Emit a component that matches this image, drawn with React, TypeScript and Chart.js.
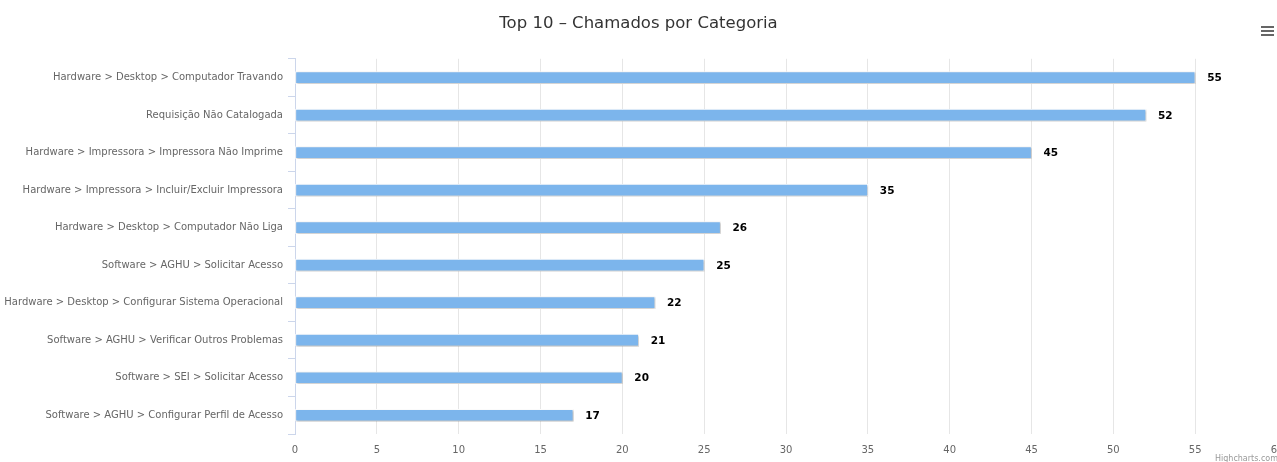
import React, { useEffect, useRef } from "react";
import { Chart, registerables } from "chart.js";

Chart.register(...registerables);

const categories = [
  "Hardware > Desktop > Computador Travando",
  "Requisição Não Catalogada",
  "Hardware > Impressora > Impressora Não Imprime",
  "Hardware > Impressora > Incluir/Excluir Impressora",
  "Hardware > Desktop > Computador Não Liga",
  "Software > AGHU > Solicitar Acesso",
  "Hardware > Desktop > Configurar Sistema Operacional",
  "Software > AGHU > Verificar Outros Problemas",
  "Software > SEI > Solicitar Acesso",
  "Software > AGHU > Configurar Perfil de Acesso",
];
const chamados = [55, 52, 45, 35, 26, 25, 22, 21, 20, 17];
const titleText = "Top 10 – Chamados por Categoria";
const FONT = "'DejaVu Sans', sans-serif";

const shadowPlugin = {
  id: "barShadow",
  beforeDatasetsDraw(chart: any) {
    const ctx = chart.ctx;
    ctx.save();
    ctx.shadowColor = "rgba(0,0,0,0.25)";
    ctx.shadowOffsetX = 1;
    ctx.shadowOffsetY = 1;
    ctx.shadowBlur = 2;
  },
  afterDatasetsDraw(chart: any) {
    chart.ctx.restore();
  },
};

const labelPlugin = {
  id: "valueLabels",
  afterDatasetsDraw(chart: any) {
    const ctx = chart.ctx;
    const meta = chart.getDatasetMeta(0);
    const data = chart.data.datasets[0].data;
    ctx.save();
    ctx.font = "bold 10.5px " + FONT;
    ctx.textAlign = "left";
    ctx.textBaseline = "middle";
    ctx.lineWidth = 2;
    ctx.strokeStyle = "#ffffff";
    ctx.fillStyle = "#000000";
    meta.data.forEach((bar: any, i: number) => {
      const t = String(data[i]);
      ctx.strokeText(t, bar.x + 12, bar.y + 1);
      ctx.fillText(t, bar.x + 12, bar.y + 1);
    });
    ctx.restore();
  },
};

export default function App() {
  const ref = useRef<HTMLCanvasElement | null>(null);
  useEffect(() => {
    if (!ref.current) return;
    const chart = new Chart(ref.current, {
      type: "bar",
      data: {
        labels: categories,
        datasets: [
          {
            label: "Chamados",
            data: chamados,
            backgroundColor: "#7cb5ec",
            borderColor: "#ffffff",
            borderWidth: 1,
            borderSkipped: false,
            barThickness: 12,
          },
        ],
      },
      options: {
        indexAxis: "y",
        animation: false,
        responsive: true,
        maintainAspectRatio: false,
        layout: { padding: { left: 0, right: 0, top: 0, bottom: 0 } },
        plugins: {
          legend: { display: false },
          tooltip: { enabled: false },
          title: {
            display: true,
            text: titleText,
            color: "#333333",
            font: { family: FONT, size: 16.5, weight: "normal" },
            padding: { top: 14, bottom: 25 },
          },
        },
        scales: {
          x: {
            min: 0,
            max: 60,
            ticks: {
              stepSize: 5,
              color: "#666666",
              font: { family: FONT, size: 10 },
              padding: 10,
            },
            grid: { color: "#e6e6e6", drawTicks: false },
            border: { display: false },
            afterFit(scale: any) {
              scale.height = 28;
              scale.paddingRight = 0;
              scale.paddingLeft = 0;
            },
          },
          y: {
            ticks: {
              color: "#666666",
              font: { family: FONT, size: 10 },
              padding: 5,
            },
            grid: {
              drawOnChartArea: false,
              color: "#ccd6eb",
              tickLength: 7,
              offset: true,
            },
            border: { display: true, color: "#ccd6eb" },
            afterFit(scale: any) {
              scale.width = 295;
              scale.paddingTop = 0;
              scale.paddingBottom = 0;
            },
          },
        },
      },
      plugins: [shadowPlugin, labelPlugin],
    });
    return () => chart.destroy();
  }, []);

  return (
    <div
      style={{
        position: "fixed",
        left: 0,
        top: 0,
        width: 1277,
        height: 462,
        overflow: "hidden",
        background: "#ffffff",
      }}
    >
      <div style={{ position: "absolute", left: 0, top: 0, width: 1277, height: 462 }}>
        <canvas ref={ref} />
      </div>
      <div style={{ position: "absolute", left: 1261, top: 26, width: 13 }}>
        <div style={{ height: 2, background: "#666", marginBottom: 2 }} />
        <div style={{ height: 2, background: "#666", marginBottom: 2 }} />
        <div style={{ height: 2, background: "#666" }} />
      </div>
      <div
        style={{
          position: "absolute",
          left: 1215,
          top: 454,
          fontFamily: FONT,
          fontSize: 8,
          color: "#999999",
          whiteSpace: "nowrap",
        }}
      >
        Highcharts.com
      </div>
    </div>
  );
}
